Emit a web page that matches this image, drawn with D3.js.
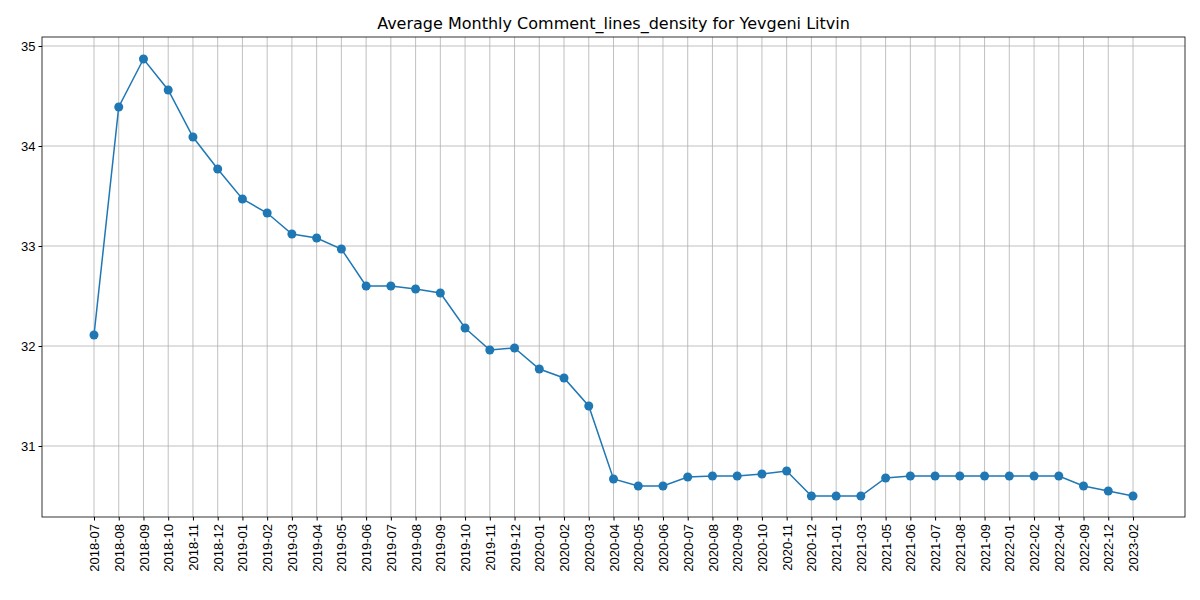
<!DOCTYPE html>
<html><head><meta charset="utf-8">
<script src="https://cdn.jsdelivr.net/npm/d3@7"></script>
<style>body{margin:0;background:#fff;font-family:"DejaVu Sans",sans-serif}</style>
</head><body><div id="chart"></div>
<script>
var months = ["2018-07","2018-08","2018-09","2018-10","2018-11","2018-12","2019-01","2019-02","2019-03","2019-04","2019-05","2019-06","2019-07","2019-08","2019-09","2019-10","2019-11","2019-12","2020-01","2020-02","2020-03","2020-04","2020-05","2020-06","2020-07","2020-08","2020-09","2020-10","2020-11","2020-12","2021-01","2021-03","2021-05","2021-06","2021-07","2021-08","2021-09","2022-01","2022-02","2022-04","2022-09","2022-12","2023-02"];
var density = [32.11,34.39,34.87,34.56,34.09,33.77,33.47,33.33,33.12,33.08,32.97,32.60,32.60,32.57,32.53,32.18,31.96,31.98,31.77,31.68,31.40,30.67,30.60,30.60,30.69,30.70,30.70,30.72,30.75,30.50,30.50,30.50,30.68,30.70,30.70,30.70,30.70,30.70,30.70,30.70,30.60,30.55,30.50];
var yTicks = [31,32,33,34,35];

var margin = {t: 37, l: 42, b: 83, r: 15},
    width = 1200 - margin.l - margin.r,
    height = 600 - margin.t - margin.b;

var svg = d3.select('#chart').append('svg')
    .attr('width', 1200).attr('height', 600);

svg.append('text').attr('x', margin.l + width / 2).attr('y', 29)
    .attr('text-anchor', 'middle').attr('font-size', 16)
    .text('Average Monthly Comment_lines_density for Yevgeni Litvin');

var g = svg.append('g').attr('transform', 'translate(' + margin.l + ',' + margin.t + ')');

var x = d3.scalePoint().domain(months).range([52, width - 52]);
var y = d3.scaleLinear().domain([30.29, 35.09]).range([height, 0]);

// grid
g.selectAll('.vg').data(months).enter().append('line')
    .attr('x1', d => x(d)).attr('x2', d => x(d)).attr('y1', 0).attr('y2', height)
    .attr('stroke', '#b0b0b0').attr('stroke-width', 0.8);
g.selectAll('.hg').data(yTicks).enter().append('line')
    .attr('x1', 0).attr('x2', width).attr('y1', d => y(d)).attr('y2', d => y(d))
    .attr('stroke', '#b0b0b0').attr('stroke-width', 0.8);

var xa = g.append('g').attr('transform', 'translate(0,' + height + ')')
    .call(d3.axisBottom(x).tickSizeOuter(0).tickSize(3.5));
xa.selectAll('text').attr('font-size', 13).attr('fill', '#000')
    .attr('text-anchor', 'end').attr('x', -7).attr('y', 0).attr('dx', 0).attr('dy', '0.35em')
    .attr('transform', 'rotate(-90)');
xa.select('.domain').remove();

var ya = g.append('g').call(d3.axisLeft(y).tickValues(yTicks).tickFormat(d3.format('d')).tickSize(3.5).tickSizeOuter(0));
ya.selectAll('text').attr('font-size', 13).attr('fill', '#000');
ya.select('.domain').remove();

g.append('rect').attr('width', width).attr('height', height)
    .attr('fill', 'none').attr('stroke', '#000').attr('stroke-width', 0.8);

g.append('path').datum(density)
    .attr('fill', 'none').attr('stroke', '#1f77b4').attr('stroke-width', 1.5)
    .attr('d', d3.line().x((d, i) => x(months[i])).y(d => y(d)));

g.selectAll('.pt').data(density).enter().append('circle')
    .attr('cx', (d, i) => x(months[i])).attr('cy', d => y(d)).attr('r', 4.5)
    .attr('fill', '#1f77b4');
</script></body></html>
